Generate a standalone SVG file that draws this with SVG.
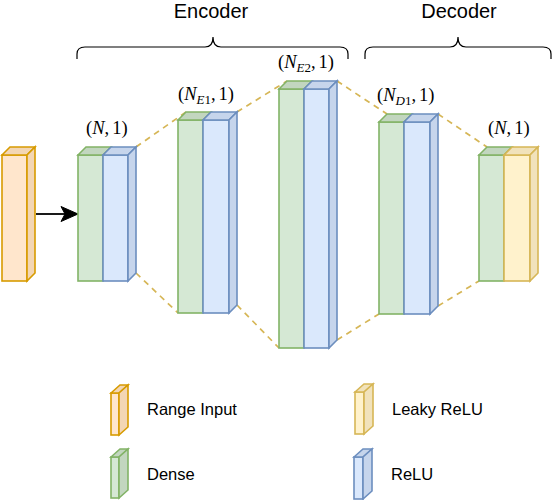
<svg xmlns="http://www.w3.org/2000/svg" width="552" height="500" viewBox="0 0 552 500">
<style>
.g{fill:#d5e8d4;stroke:#82b366;stroke-width:1.6;stroke-linejoin:miter}
.gd{fill:#c2d6bf;stroke:#82b366;stroke-width:1.6}
.b{fill:#dae8fc;stroke:#6c8ebf;stroke-width:1.6}
.bd{fill:#c6d5ec;stroke:#6c8ebf;stroke-width:1.6}
.o{fill:#ffe6cc;stroke:#d79b00;stroke-width:1.6}
.od{fill:#f3d6b4;stroke:#d79b00;stroke-width:1.6}
.y{fill:#fff2cc;stroke:#d6b656;stroke-width:1.6}
.yd{fill:#f1e2bb;stroke:#d6b656;stroke-width:1.6}
.dash{stroke:#d6b656;stroke-width:1.7;stroke-dasharray:6 5;fill:none}
.brace{fill:none;stroke:#000;stroke-width:1.2}
.t{font-family:"Liberation Sans",Arial,sans-serif;fill:#000}
.m{font-family:"Liberation Serif","Times New Roman",serif;fill:#000;font-size:18.5px}
.s{font-size:13px}
</style>
<g id="connectors">
<line class="dash" x1="136" y1="147" x2="186" y2="112"/>
<line class="dash" x1="237" y1="112" x2="287" y2="81"/>
<line class="dash" x1="337" y1="81" x2="387" y2="114"/>
<line class="dash" x1="438" y1="114" x2="487" y2="147"/>
<line class="dash" x1="136" y1="273" x2="178" y2="313"/>
<line class="dash" x1="237" y1="305" x2="279" y2="348"/>
<line class="dash" x1="337" y1="340" x2="379" y2="314"/>
<line class="dash" x1="438" y1="306" x2="479" y2="281"/>
<line x1="36" y1="214" x2="66" y2="214" stroke="#000" stroke-width="1.8"/>
<path d="M78,214 L61,206.5 L65,214 L61,221.5 Z" fill="#000" stroke="#000" stroke-width="1"/>
</g>
<g id="input">
<rect class="o" x="2" y="155" width="25" height="126"/>
<polygon class="od" points="2,155 10,147 35,147 27,155"/>
<polygon class="od" points="27,155 35,147 35,273 27,281"/>
</g>
<g id="layer1">
<rect class="g" x="78" y="155" width="25" height="126"/>
<polygon class="gd" points="78,155 86,147 111,147 103,155"/>
<rect class="b" x="103" y="155" width="25" height="126"/>
<polygon class="bd" points="103,155 111,147 136,147 128,155"/>
<polygon class="bd" points="128,155 136,147 136,273 128,281"/>
</g>
<g id="layer2">
<rect class="g" x="178" y="120" width="25" height="193"/>
<polygon class="gd" points="178,120 186,112 211,112 203,120"/>
<rect class="b" x="203" y="120" width="26" height="193"/>
<polygon class="bd" points="203,120 211,112 237,112 229,120"/>
<polygon class="bd" points="229,120 237,112 237,305 229,313"/>
</g>
<g id="layer3">
<rect class="g" x="279" y="89" width="25" height="259"/>
<polygon class="gd" points="279,89 287,81 312,81 304,89"/>
<rect class="b" x="304" y="89" width="25" height="259"/>
<polygon class="bd" points="304,89 312,81 337,81 329,89"/>
<polygon class="bd" points="329,89 337,81 337,340 329,348"/>
</g>
<g id="layer4">
<rect class="g" x="379" y="122" width="25" height="192"/>
<polygon class="gd" points="379,122 387,114 412,114 404,122"/>
<rect class="b" x="404" y="122" width="26" height="192"/>
<polygon class="bd" points="404,122 412,114 438,114 430,122"/>
<polygon class="bd" points="430,122 438,114 438,306 430,314"/>
</g>
<g id="layer5">
<rect class="g" x="479" y="155" width="25" height="126"/>
<polygon class="gd" points="479,155 487,147 512,147 504,155"/>
<rect class="y" x="504" y="155" width="26" height="126"/>
<polygon class="yd" points="504,155 512,147 538,147 530,155"/>
<polygon class="yd" points="530,155 538,147 538,273 530,281"/>
</g>
<g id="labels">
<text class="m" x="86" y="134">(<tspan font-style="italic">N</tspan>,<tspan dx="3">1)</tspan></text>
<text class="m" x="178" y="100">(<tspan font-style="italic">N</tspan><tspan class="s" dy="4" font-style="italic">E</tspan><tspan class="s">1</tspan><tspan dy="-4">,</tspan><tspan dx="3">1)</tspan></text>
<text class="m" x="278" y="68">(<tspan font-style="italic">N</tspan><tspan class="s" dy="4" font-style="italic">E</tspan><tspan class="s">2</tspan><tspan dy="-4">,</tspan><tspan dx="3">1)</tspan></text>
<text class="m" x="377" y="101">(<tspan font-style="italic">N</tspan><tspan class="s" dy="4" font-style="italic">D</tspan><tspan class="s">1</tspan><tspan dy="-4">,</tspan><tspan dx="3">1)</tspan></text>
<text class="m" x="488" y="134">(<tspan font-style="italic">N</tspan>,<tspan dx="3">1)</tspan></text>
</g>
<g id="encoder">
<text class="t" x="211" y="18" font-size="20" text-anchor="middle">Encoder</text>
<path class="brace" d="M77,59 L77,54 Q77,47 85,47 L205,47 Q213,47 213,37 Q213,47 221,47 L340,47 Q348,47 348,54 L348,59"/>
</g>
<g id="decoder">
<text class="t" x="459" y="18" font-size="20" text-anchor="middle">Decoder</text>
<path class="brace" d="M365,59 L365,54 Q365,47 373,47 L450,47 Q458,47 458,37 Q458,47 466,47 L543,47 Q551,47 551,54 L551,59"/>
</g>
<g id="legend-range">
<rect class="o" x="111" y="393" width="8" height="42"/>
<polygon class="od" points="111,393 120,385 128,385 119,393"/>
<polygon class="od" points="119,393 128,385 128,427 119,435"/>
<text class="t" x="147" y="415" font-size="16.5">Range Input</text>
</g>
<g id="legend-dense">
<rect class="g" x="111" y="457" width="8" height="41"/>
<polygon class="gd" points="111,457 120,449 128,449 119,457"/>
<polygon class="gd" points="119,457 128,449 128,490 119,498"/>
<text class="t" x="147" y="480" font-size="16.5">Dense</text>
</g>
<g id="legend-leaky">
<rect class="y" x="355" y="392" width="9" height="42"/>
<polygon class="yd" points="355,392 364,384 373,384 364,392"/>
<polygon class="yd" points="364,392 373,384 373,426 364,434"/>
<text class="t" x="392" y="415" font-size="16.5">Leaky ReLU</text>
</g>
<g id="legend-relu">
<rect class="b" x="354" y="457" width="9" height="42"/>
<polygon class="bd" points="354,457 363,449 372,449 363,457"/>
<polygon class="bd" points="363,457 372,449 372,491 363,499"/>
<text class="t" x="391" y="480" font-size="16.5">ReLU</text>
</g>
</svg>
